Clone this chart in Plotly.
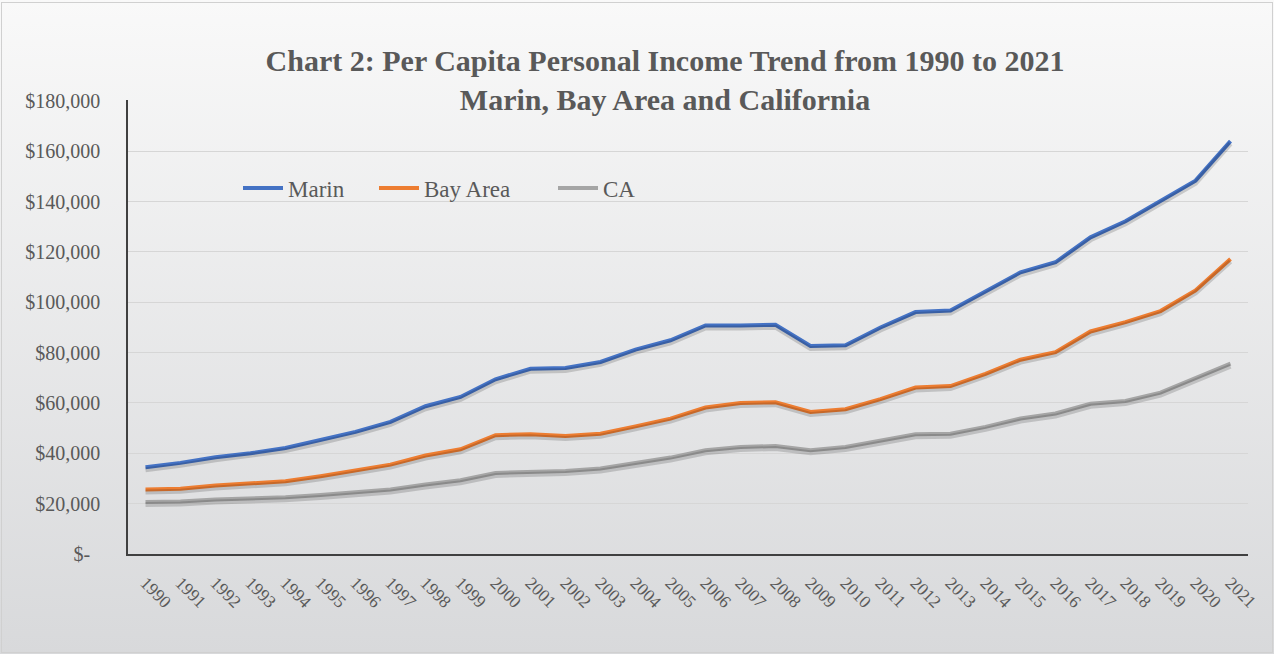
import base64
import plotly.graph_objects as go

years = [str(y) for y in range(1990, 2022)]
marin = [34500, 36200, 38400, 40000, 42100, 45200, 48500, 52500, 58700, 62400,
         69400, 73600, 73900, 76300, 81200, 84900, 90800, 90800, 91100, 82600,
         82900, 90000, 96100, 96700, 104300, 111900, 115900, 125800, 132200, 140100,
         148300, 164000]
bay_area = [25600, 25900, 27200, 28000, 28900, 30900, 33300, 35500, 39100, 41600,
            47200, 47600, 46900, 47800, 50700, 53800, 58200, 60000, 60300, 56400,
            57500, 61500, 66100, 66700, 71600, 77200, 80200, 88400, 92100, 96500,
            104700, 117200]
ca = [20700, 20900, 21700, 21900, 22500, 23400, 24300, 25600, 27600, 29300,
      32200, 32600, 33000, 34000, 36300, 38300, 41200, 42500, 42900, 41200,
      42500, 45200, 47600, 47800, 50500, 53800, 55800, 59700, 60800, 64100,
      69700, 75600]
series_names = ["Marin", "Bay Area", "CA"]
colors = ["#4472C4", "#ED7D31", "#A5A5A5"]
tick_vals = [0, 20000, 40000, 60000, 80000, 100000, 120000, 140000, 160000, 180000]
tick_text = ["$-\u00a0\u00a0"] + ["${:,}".format(v) for v in tick_vals[1:]]

W, H = 1274, 654
L, R, T, B = 128, 26, 100, 100
PW, PH = W - L - R, H - T - B
YMAX = 180000 * 1.002
per_px = YMAX / PH

FONT = "Liberation Serif"
GRAY = "#595959"

fig = go.Figure()
# soft shadows (same data, on an overlaid axis shifted a few pixels down)
for vals in [marin, bay_area, ca]:
    fig.add_trace(go.Scatter(x=years, y=vals, mode="lines", yaxis="y2",
                             line=dict(color="rgba(0,0,0,0.16)", width=5),
                             hoverinfo="skip", showlegend=False))
legend_ids = ["legend", "legend2", "legend3"]
for name, vals, c, lg in zip(series_names, [marin, bay_area, ca], colors, legend_ids):
    fig.add_trace(go.Scatter(x=years, y=vals, mode="lines", name=name, legend=lg,
                             line=dict(color=c, width=4)))

svg = f'''<svg xmlns="http://www.w3.org/2000/svg" width="{W}" height="{H}" preserveAspectRatio="none">
<defs><linearGradient id="g" x1="0" y1="0" x2="0" y2="1">
<stop offset="0" stop-color="#f9f9f9"/><stop offset="1" stop-color="#d8d9db"/></linearGradient></defs>
<rect x="0" y="0" width="{W}" height="{H}" fill="url(#g)"/>
<rect x="1.5" y="2.5" width="{W-3}" height="{H-4}" fill="none" stroke="#d0d0d0" stroke-width="1"/>
</svg>'''
src = "data:image/svg+xml;base64," + base64.b64encode(svg.encode()).decode()

legend_x_px = [238, 374, 553]
legend_y = (H - B - 188) / PH


def legend_cfg(xpx):
    return dict(orientation="h", x=(xpx - L) / PW, xanchor="left",
                y=legend_y, yanchor="middle", bgcolor="rgba(0,0,0,0)",
                font=dict(family=FONT, size=23, color=GRAY), itemwidth=40)


fig.update_layout(
    width=W, height=H,
    margin=dict(l=L, r=R, t=T, b=B),
    paper_bgcolor="#eeeeee",
    plot_bgcolor="rgba(0,0,0,0)",
    images=[dict(source=src, xref="paper", yref="paper",
                 x=-L / PW, y=1 + T / PH, sizex=W / PW, sizey=H / PH,
                 xanchor="left", yanchor="top", sizing="stretch", layer="below")],
    title=dict(text="Chart 2: Per Capita Personal Income Trend from 1990 to 2021<br>Marin, Bay Area and California",
               font=dict(family=FONT, size=30, color=GRAY, weight="bold"),
               x=665 / W, xanchor="center", xref="container",
               y=1 - 71 / H, yanchor="middle", yref="container"),
    font=dict(family=FONT, color=GRAY),
    showlegend=True,
    legend=legend_cfg(legend_x_px[0]),
    legend2=legend_cfg(legend_x_px[1]),
    legend3=legend_cfg(legend_x_px[2]),
    xaxis=dict(type="category", range=[-0.5, len(years) - 0.5],
               showgrid=False, showline=True, linecolor="#404040", linewidth=1.5,
               ticks="", tickangle=45, ticklabelstandoff=10,
               tickfont=dict(family=FONT, size=17.5, color=GRAY),
               zeroline=False),
    yaxis=dict(range=[0, YMAX], tickvals=tick_vals, ticktext=tick_text,
               showgrid=True, gridcolor="#d6d6d6", gridwidth=1,
               showline=True, linecolor="#404040", linewidth=1.5,
               ticks="", ticklabelstandoff=22, tickfont=dict(family=FONT, size=20, color=GRAY),
               zeroline=False),
    yaxis2=dict(overlaying="y", range=[2.5 * per_px, YMAX + 2.5 * per_px],
                visible=False),
)

fig.write_html("out.html", config={"displayModeBar": False},
               post_script="document.body.style.margin='0';document.body.style.overflow='hidden';")
